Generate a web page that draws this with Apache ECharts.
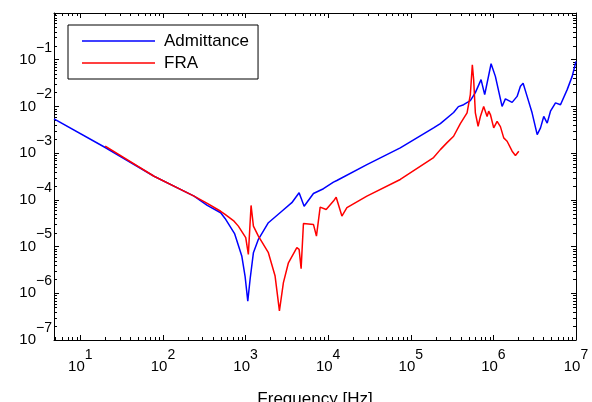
<!DOCTYPE html>
<html><head><meta charset="utf-8">
<script src="https://cdn.jsdelivr.net/npm/echarts@6/dist/echarts.min.js"></script>
<style>html,body{margin:0;padding:0;background:#fff}#c{width:592px;height:402px}</style>
</head><body><div id="c"></div>
<script>
const seriesNames = ['Admittance', 'FRA'];
const seriesColors = ['#0000ff', '#ff0000'];

const admFreq = [4.8, 20, 78, 238, 344, 500, 565, 736, 900, 986, 1064, 1135, 1245, 1430, 1889, 2746, 3631, 4449, 5117, 6633, 8770, 11590, 12740, 29430, 74600, 188800, 228000, 330000, 377000, 436000, 526000, 605000, 709000, 785000, 938000, 1057000, 1274000, 1397000, 1686000, 1937000, 2124000, 2290000, 2560000, 2940000, 3390000, 3720000, 4070000, 4480000, 4910000, 5650000, 6490000, 7820000, 8990000, 10000000];
const admVal = [5.4e-3, 1.32e-3, 3.2e-4, 1.2e-4, 7.6e-5, 5.3e-5, 4.0e-5, 1.9e-5, 6.3e-6, 2.34e-6, 6.8e-7, 2.0e-6, 7.4e-6, 1.43e-5, 3.24e-5, 5.7e-5, 8.7e-5, 1.42e-4, 7.3e-5, 1.37e-4, 1.73e-4, 2.39e-4, 2.6e-4, 5.7e-4, 1.3e-3, 3.47e-3, 4.3e-3, 7.4e-3, 9.9e-3, 1.09e-2, 1.33e-2, 1.97e-2, 3.74e-2, 1.79e-2, 8.2e-2, 4.4e-2, 1.0e-2, 1.45e-2, 1.22e-2, 1.64e-2, 2.69e-2, 3.12e-2, 1.64e-2, 7.3e-3, 2.49e-3, 3.47e-3, 6.1e-3, 4.4e-3, 7.9e-3, 1.19e-2, 1.09e-2, 2.29e-2, 4.4e-2, 9.2e-2];

const fraFreq = [20, 78, 238, 344, 500, 565, 726, 818, 1005, 1081, 1166, 1245, 1430, 1889, 2278, 2570, 2872, 3303, 4178, 4449, 4706, 5020, 6633, 7213, 8000, 9460, 11590, 12500, 14660, 16860, 29430, 74600, 188800, 228000, 275000, 330000, 398000, 480000, 526000, 556000, 577000, 605000, 653000, 696000, 763000, 839000, 877000, 920000, 1009000, 1109000, 1216000, 1334000, 1466000, 1686000, 1849000, 2030000];
const fraVal = [1.42e-3, 3.2e-4, 1.2e-4, 8.4e-5, 5.7e-5, 4.9e-5, 3.5e-5, 2.74e-5, 1.55e-5, 6.8e-6, 7.6e-5, 2.74e-5, 1.68e-5, 7.4e-6, 2.34e-6, 4.2e-7, 1.69e-6, 4.5e-6, 9.5e-6, 8.7e-6, 3.37e-6, 3.13e-5, 2.98e-5, 1.68e-5, 7.0e-5, 6.2e-5, 9.4e-5, 1.14e-4, 4.5e-5, 6.8e-5, 1.2e-4, 2.73e-4, 8.05e-4, 1.19e-3, 1.68e-3, 2.3e-3, 4.3e-3, 7.3e-3, 1.79e-2, 7.8e-2, 3.74e-2, 7.3e-3, 3.76e-3, 6.1e-3, 1.0e-2, 6.1e-3, 7.9e-3, 6.7e-3, 3.47e-3, 4.8e-3, 3.7e-3, 2.12e-3, 1.8e-3, 1.1e-3, 8.9e-4, 1.1e-3];

const xRange = [4.8, 1e7];
const yRange = [1e-7, 1];
const xTickExponents = [1, 2, 3, 4, 5, 6, 7];
const yTickExponents = [-7, -6, -5, -4, -3, -2, -1];
const minorMultipliers = [2, 3, 4, 5, 6, 7, 8, 9];
const xAxisTitle = 'Frequency [Hz]';

const FONT = "'Liberation Sans', Arial, Helvetica, sans-serif";

function minorTicks(range) {
  const out = [];
  const lo = Math.floor(Math.log10(range[0]));
  const hi = Math.ceil(Math.log10(range[1]));
  for (let k = lo; k < hi; k++) {
    for (const m of minorMultipliers) {
      const v = m * Math.pow(10, k);
      if (v > range[0] && v < range[1]) out.push(v);
    }
  }
  return out;
}
const minorX = minorTicks(xRange);
const minorY = minorTicks(yRange);

function expFormatter(allowed) {
  return function (v) {
    const l = Math.log10(v);
    const e = Math.round(l);
    if (Math.abs(l - e) > 1e-6 || allowed.indexOf(e) < 0) return '';
    return '{b|10}{s|' + (e < 0 ? '\u2212' + (-e) : e) + '}';
  };
}
const rich = {
  b: { fontSize: 15, fontFamily: FONT, color: '#000', lineHeight: 16 },
  s: { fontSize: 14, fontFamily: FONT, color: '#000', lineHeight: 16, padding: [0, 0, 24, 0] }
};

const chart = echarts.init(document.getElementById('c'), null, { renderer: 'canvas' });

function zip(xs, ys) { return xs.map((x, i) => [x, ys[i]]); }

const axisLineStyle = { show: true, lineStyle: { color: '#000', width: 1 } };

chart.setOption({
  animation: false,
  backgroundColor: '#fff',
  grid: { left: 54, right: 16, top: 13, bottom: 62, containLabel: false, outerBoundsMode: 'none' },
  legend: {
    data: seriesNames,
    orient: 'vertical',
    left: 68, top: 25,
    backgroundColor: '#fff',
    borderColor: '#000', borderWidth: 1,
    padding: [6, 9, 6, 14],
    icon: 'rect', itemWidth: 73, itemHeight: 1.6, itemGap: 2,
    textStyle: { fontSize: 17, fontFamily: FONT, color: '#000', lineHeight: 20, padding: [0, 0, 0, 4] }
  },
  xAxis: [
    {
      type: 'log', min: xRange[0], max: xRange[1], splitNumber: 6,
      position: 'bottom',
      name: xAxisTitle, nameLocation: 'middle', nameGap: 49,
      nameTextStyle: { fontSize: 17, fontFamily: FONT, color: '#000' },
      axisLine: axisLineStyle,
      axisTick: { show: true, inside: true, length: 5, lineStyle: { color: '#000' } },
      axisLabel: { formatter: expFormatter(xTickExponents), rich: rich, margin: 19, showMinLabel: true, showMaxLabel: true, hideOverlap: false },
      splitLine: { show: false }
    },
    {
      type: 'log', min: xRange[0], max: xRange[1], splitNumber: 6,
      position: 'top',
      axisLine: axisLineStyle,
      axisTick: { show: true, inside: true, length: 5, lineStyle: { color: '#000' } },
      axisLabel: { show: false },
      splitLine: { show: false }
    }
  ],
  yAxis: [
    {
      type: 'log', min: yRange[0], max: yRange[1], splitNumber: 7,
      position: 'left',
      axisLine: axisLineStyle,
      axisTick: { show: true, inside: true, length: 5, lineStyle: { color: '#000' } },
      axisLabel: { formatter: expFormatter(yTickExponents), rich: rich, margin: 2, showMinLabel: true, showMaxLabel: true, hideOverlap: false },
      splitLine: { show: false }
    },
    {
      type: 'log', min: yRange[0], max: yRange[1], splitNumber: 7,
      position: 'right',
      axisLine: axisLineStyle,
      axisTick: { show: true, inside: true, length: 5, lineStyle: { color: '#000' } },
      axisLabel: { show: false },
      splitLine: { show: false }
    }
  ],
  series: [
    {
      type: 'custom', name: 'minorTicks', silent: true, clip: false,
      xAxisIndex: 0, yAxisIndex: 0,
      data: [0],
      renderItem: function (params, api) {
        const cs = params.coordSys;
        const top = cs.y, bottom = cs.y + cs.height, left = cs.x, right = cs.x + cs.width;
        const L = 3;
        const children = [];
        const st = { stroke: '#000', lineWidth: 1 };
        minorX.forEach(v => {
          const px = Math.round(api.coord([v, yRange[0]])[0]) + 0.5;
          children.push({ type: 'line', shape: { x1: px, y1: bottom, x2: px, y2: bottom - L }, style: st });
          children.push({ type: 'line', shape: { x1: px, y1: top, x2: px, y2: top + L }, style: st });
        });
        minorY.forEach(v => {
          const py = Math.round(api.coord([xRange[0], v])[1]) + 0.5;
          children.push({ type: 'line', shape: { x1: left, y1: py, x2: left + L, y2: py }, style: st });
          children.push({ type: 'line', shape: { x1: right, y1: py, x2: right - L, y2: py }, style: st });
        });
        return { type: 'group', children: children };
      }
    },
    {
      type: 'line', name: seriesNames[0], data: zip(admFreq, admVal),
      showSymbol: false, symbol: 'none', smooth: false,
      lineStyle: { color: seriesColors[0], width: 1.5 },
      itemStyle: { color: seriesColors[0] }
    },
    {
      type: 'line', name: seriesNames[1], data: zip(fraFreq, fraVal),
      showSymbol: false, symbol: 'none', smooth: false,
      lineStyle: { color: seriesColors[1], width: 1.5 },
      itemStyle: { color: seriesColors[1] }
    }
  ]
});
</script>
</body></html>
